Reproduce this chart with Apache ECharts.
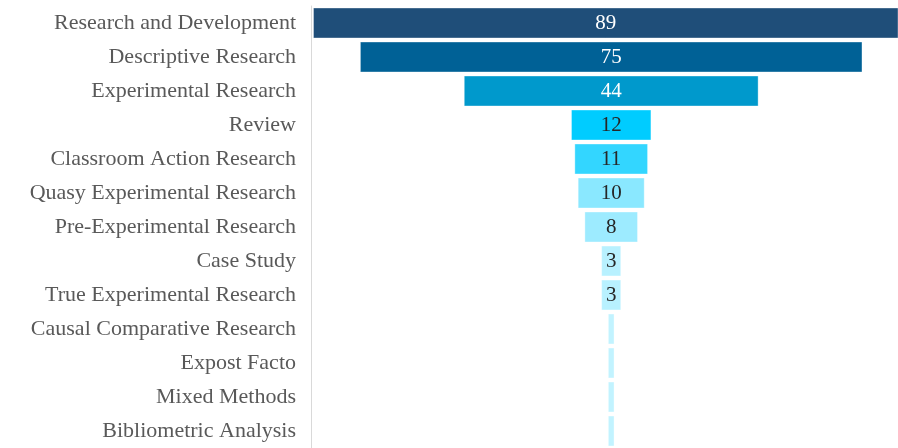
<!DOCTYPE html>
<html>
<head>
<meta charset="utf-8">
<script src="https://cdn.jsdelivr.net/npm/echarts@6/dist/echarts.min.js"></script>
<style>
  html, body { margin: 0; padding: 0; background: #fff; }
  #chart { width: 898px; height: 448px; }
</style>
</head>
<body>
<div id="chart"></div>
<script>
// categories, top to bottom
const categories = [
  'Research and Development', 'Descriptive Research', 'Experimental Research', 'Review',
  'Classroom Action Research', 'Quasy Experimental Research', 'Pre-Experimental Research',
  'Case Study', 'True Experimental Research', 'Causal Comparative Research',
  'Expost Facto', 'Mixed Methods', 'Bibliometric Analysis'
]
const values = [89, 75, 44, 12, 11, 10, 8, 3, 3, 1, 1, 1, 1]
const barColors = [
  '#1F4E79', '#006196', '#0099CC', '#00CCFF', '#33D6FF', '#8AE8FF', '#9DEBFF',
  '#B8F1FF', '#B8F1FF', '#C2F3FF', '#C2F3FF', '#C2F3FF', '#C2F3FF'
]
const labelColors = ['#ffffff', '#ffffff', '#ffffff']

// bars are centred on this width
const centreWidth = 89.6
const offsets = values.map(v => (centreWidth - v) / 2)

const chart = echarts.init(document.getElementById('chart'))

chart.setOption({
  animation: false,
  grid: { left: 311, right: 0, top: 6, bottom: -4, containLabel: false },
  xAxis: {
    type: 'value',
    min: 0,
    max: 87.6,
    show: false
  },
  yAxis: {
    type: 'category',
    inverse: true,
    data: categories,
    axisLine: { show: true, lineStyle: { color: '#d9d9d9', width: 1 } },
    axisTick: { show: false },
    axisLabel: {
      color: '#595959',
      fontFamily: 'Liberation Serif',
      fontSize: 22,
      margin: 15,
      padding: [4, 0, 0, 0]
    }
  },
  series: [
    {
      type: 'bar',
      stack: 'f',
      data: offsets,
      itemStyle: { color: 'transparent' },
      silent: true
    },
    {
      type: 'bar',
      stack: 'f',
      barCategoryGap: '9%',
      data: values.map((v, i) => ({
        value: v,
        itemStyle: { color: barColors[i], borderColor: 'rgba(255,255,255,0.35)', borderWidth: 1 },
        label: i < labelColors.length ? { color: labelColors[i] } : {}
      })),
      label: {
        show: true,
        position: 'inside',
        fontFamily: 'Liberation Serif',
        fontSize: 21,
        padding: [3, 0, 0, 0],
        formatter: p => (p.value > 1 ? p.value : ''),
        color: '#262626'
      }
    }
  ]
})
</script>
</body>
</html>
